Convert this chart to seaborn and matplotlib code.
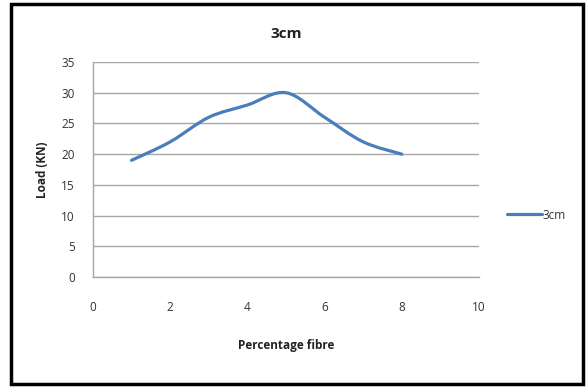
import numpy as np
import pandas as pd
import seaborn as sns
import matplotlib
matplotlib.use("Agg")
import matplotlib.pyplot as plt
from matplotlib.path import Path
from matplotlib.patches import PathPatch, Rectangle

fibre = [1, 2, 3, 4, 5, 6, 7, 8]
load = [19, 22, 26, 28, 30, 26, 22, 20]
series_name = "3cm"
x_ticks = [0, 2, 4, 6, 8, 10]
y_ticks = [0, 5, 10, 15, 20, 25, 30, 35]

sns.set_style("white")
plt.rcParams['font.family'] = ['Open Sans', 'DejaVu Sans']

fig = plt.figure(figsize=(5.87, 3.87), dpi=100)
ax = fig.add_axes([0.1584, 0.2842, 0.816 - 0.1584, 0.8398 - 0.2842])

df = pd.DataFrame({"fibre": fibre, "load": load})
color = "#4A7EBB"
sns.lineplot(data=df, x="fibre", y="load", ax=ax, color=color, linewidth=2.3, label=series_name)
line = ax.get_lines()[0]

leg = ax.legend(loc="center left", bbox_to_anchor=(1.06, 0.288), frameon=False,
                fontsize=8.5, handlelength=3.0, handletextpad=0.0, borderaxespad=0.0,
                labelcolor="#333333")
line.set_visible(False)

# smoothed (Catmull-Rom -> Bezier) curve through the data points
xs = np.asarray(fibre, float)
ys = np.asarray(load, float)
n = len(xs)
verts = [(xs[0], ys[0])]
codes = [Path.MOVETO]
for i in range(n - 1):
    p0 = (xs[max(i - 1, 0)], ys[max(i - 1, 0)])
    p1 = (xs[i], ys[i])
    p2 = (xs[i + 1], ys[i + 1])
    p3 = (xs[min(i + 2, n - 1)], ys[min(i + 2, n - 1)])
    t = 1 / 6
    c1 = (p1[0] + (p2[0] - p0[0]) * t, p1[1] + (p2[1] - p0[1]) * t)
    c2 = (p2[0] - (p3[0] - p1[0]) * t, p2[1] - (p3[1] - p1[1]) * t)
    verts += [c1, c2, p2]
    codes += [Path.CURVE4] * 3
ax.add_patch(PathPatch(Path(verts, codes), facecolor="none", edgecolor=color,
                       linewidth=2.3, capstyle="round", joinstyle="round", zorder=3))

ax.set_xlim(0, 10)
ax.set_ylim(0, 35)
ax.set_xticks(x_ticks)
ax.set_yticks(y_ticks)
ax.yaxis.grid(True, color="#A6A6A6", linewidth=1.0)
ax.xaxis.grid(False)
for s in ["top", "right"]:
    ax.spines[s].set_visible(False)
for s in ["left", "bottom"]:
    ax.spines[s].set_color("#A6A6A6")
    ax.spines[s].set_linewidth(1.0)
ax.tick_params(axis="both", length=0, labelsize=8.5, colors="#333333")
ax.tick_params(axis="y", pad=13)
ax.tick_params(axis="x", pad=17)

ax.set_xlabel("Percentage fibre", fontsize=8.5, fontweight="bold", labelpad=18, color="#222222")
ax.set_ylabel("Load (KN)", fontsize=8.5, fontweight="bold", labelpad=9, color="#222222")
ax.set_title("3cm", fontsize=11, fontweight="bold", pad=17, color="#222222")

# outer chart frame
fig.patches.append(Rectangle((11 / 587, 3 / 387), (583 - 11) / 587, (383 - 3) / 387,
                             transform=fig.transFigure, fill=False,
                             edgecolor="black", linewidth=2.5, zorder=10))

fig.savefig("out.png", dpi=100)
